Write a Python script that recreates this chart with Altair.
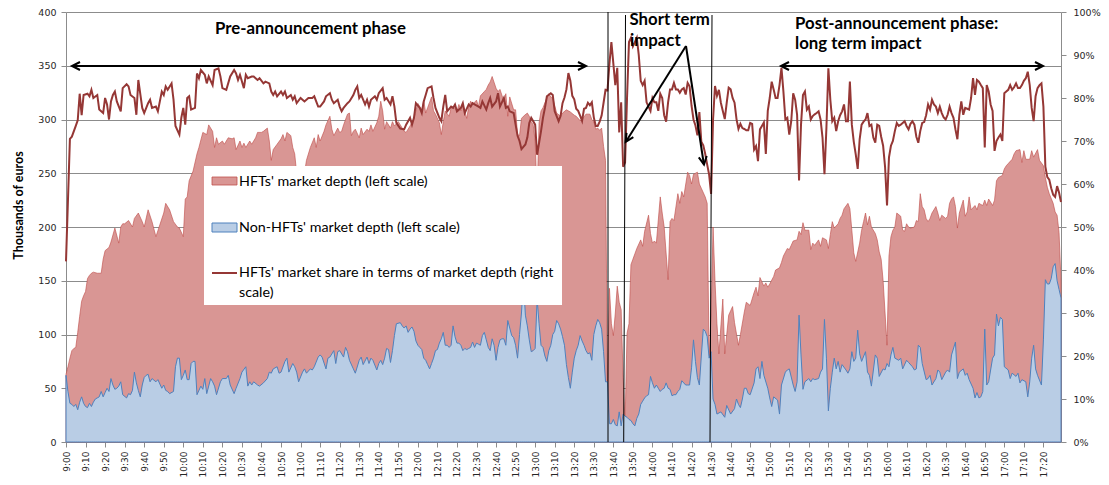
import altair as alt
import pandas as pd

# ---------------- data (minutes after 9:00) ----------------
# HFTs' market depth (left scale, thousands of euros) - top of the red area
hft_points = [(0,63),(1,70),(2,78),(3,85),(4,87),(5,88),(6,102),(7,117),(8,131),(9,136),(10,140),(11,152),(12,155),(13,157),(14,158),(16,157),(18,157),(19,170),(20,178),(22,181),(23,186),(25,199),(27,185),(28,200),(29,203),(30,203),(32,206),(34,200),(35,208),(37,213),(39,205),(40,200),(42,216),(44,205),(46,191),(48,202),(50,213),(51,222),(53,216),(55,205),(57,200),(58,199),(60,191),(61,226),(62,228),(63,243),(65,252),(67,268),(68,274),(70,288),(72,286),(73,295),(75,289),(76,274),(77,283),(78,277),(80,280),(81,277),(83,283),(85,282),(86,283),(87,272),(89,280),(90,274),(91,278),(92,274),(94,280),(95,277),(97,283),(98,288),(100,288),(101,289),(103,292),(104,280),(105,262),(106,272),(108,277),(110,282),(111,286),(112,280),(113,288),(115,285),(116,274),(117,268),(118,250),(119,190),(121,190),(122,250),(123,262),(125,274),(127,283),(128,274),(129,286),(130,280),(132,289),(133,295),(135,303),(136,291),(137,285),(139,292),(140,288),(141,289),(142,295),(144,305),(145,306),(146,285),(147,289),(148,291),(150,283),(151,292),(152,286),(154,291),(155,289),(156,295),(157,289),(159,297),(160,303),(161,317),(162,308),(163,291),(164,298),(166,292),(167,298),(168,294),(170,298),(172,292),(173,289),(174,288),(176,294),(178,301),(179,308),(180,315),(182,309),(183,318),(184,306),(185,311),(187,321),(188,308),(189,305),(191,297),(192,286),(193,298),(194,308),(196,303),(197,311),(198,312),(200,308),(201,314),(202,308),(203,314),(205,301),(206,312),(207,317),(208,314),(210,318),(211,312),(212,322),(214,326),(215,328),(216,332),(217,335),(218,340),(220,329),(221,326),(222,328),(224,317),(225,324),(226,303),(227,321),(229,309),(230,309),(231,286),(232,285),(233,301),(234,303),(236,306),(237,303),(238,298),(239,295),(240,280),(241,230),(242,297),(243,308),(244,311),(246,320),(247,324),(248,321),(249,320),(251,306),(253,303),(254,306),(256,309),(258,307),(260,304),(261,303),(263,299),(264,300),(266,305),(268,305),(269,300),(270,298),(271,291),(272,292),(273,290),(274,292),(275,275),(276,262),(277,56),(278,143),(279,110),(280,99),(281,120),(282,145),(283,130),(284,123),(285,60),(286,18),(287,101),(288,110),(289,165),(290,170),(291,175),(292,180),(294,188),(295,182),(296,196),(298,211),(299,194),(300,185),(301,187),(302,185),(304,228),(305,213),(306,200),(308,151),(309,205),(310,208),(311,206),(313,231),(314,222),(315,233),(316,228),(318,251),(319,248),(320,240),(321,249),(323,251),(324,240),(325,236),(327,228),(328,222),(329,78),(330,120),(331,200),(332,150),(333,110),(334,82),(336,133),(337,82),(339,118),(341,126),(342,111),(344,90),(345,100),(347,121),(348,130),(350,127),(352,139),(353,144),(354,136),(355,153),(357,145),(358,148),(359,144),(360,147),(362,154),(363,160),(365,162),(366,167),(367,173),(369,180),(370,179),(371,183),(372,187),(374,188),(375,196),(376,193),(377,204),(378,197),(380,197),(381,179),(382,185),(383,183),(385,188),(386,182),(387,190),(389,188),(390,180),(391,193),(392,205),(393,199),(395,203),(396,208),(397,211),(398,217),(400,222),(401,217),(402,197),(403,176),(404,168),(406,185),(407,197),(408,205),(409,213),(410,202),(411,210),(412,200),(414,194),(415,188),(416,177),(417,170),(418,150),(419,120),(420,90),(421,173),(422,191),(423,197),(424,200),(425,213),(427,210),(428,197),(429,196),(430,203),(431,200),(432,199),(434,200),(435,206),(436,205),(437,231),(438,219),(439,216),(440,208),(441,205),(442,208),(443,213),(445,219),(446,213),(447,206),(448,211),(450,208),(451,210),(452,222),(453,226),(454,228),(455,219),(456,199),(457,213),(459,225),(460,210),(461,214),(462,228),(463,216),(465,220),(466,216),(467,222),(468,221),(469,220),(470,225),(471,220),(472,226),(474,220),(475,225),(476,243),(477,246),(479,248),(480,254),(481,257),(482,259),(484,263),(485,268),(486,271),(488,272),(489,260),(490,271),(491,263),(493,263),(494,271),(495,265),(497,272),(498,262),(500,257),(501,246),(502,237),(503,231),(505,222),(506,214),(507,211),(508,195),(509,150)]

# Non-HFTs' market depth (left scale, thousands of euros)
non_hft_points = [(0,62),(1,47),(2,36),(3,35),(4,33),(5,35),(6,30),(7,37),(8,42),(9,36),(10,33),(11,32),(12,36),(13,33),(14,37),(15,40),(16,41),(17,42),(18,47),(19,42),(20,46),(21,50),(22,47),(23,59),(24,53),(25,49),(26,50),(27,52),(28,56),(29,44),(31,41),(32,45),(33,44),(34,48),(35,65),(36,55),(37,48),(38,42),(39,53),(40,60),(41,62),(42,63),(43,56),(44,59),(46,56),(47,58),(49,50),(50,53),(51,48),(52,47),(53,45),(55,47),(56,70),(57,78),(58,78),(59,58),(60,62),(61,67),(62,58),(63,58),(64,73),(65,75),(66,75),(67,44),(69,52),(70,49),(71,59),(72,45),(74,59),(75,56),(76,52),(77,44),(79,56),(80,59),(82,59),(83,62),(84,53),(86,45),(87,50),(89,59),(90,65),(92,70),(93,52),(94,56),(95,53),(96,56),(98,53),(99,52),(101,55),(103,59),(104,65),(105,64),(106,68),(108,70),(109,64),(110,65),(112,75),(113,78),(114,65),(116,73),(117,70),(118,65),(119,56),(121,65),(122,68),(123,64),(125,68),(126,67),(127,70),(129,79),(130,81),(131,79),(133,68),(134,78),(135,79),(137,85),(138,73),(139,84),(140,85),(142,79),(143,88),(144,84),(145,76),(147,68),(148,64),(150,76),(151,79),(152,72),(154,79),(155,73),(156,78),(157,76),(159,67),(160,73),(161,76),(162,72),(163,78),(164,87),(165,86),(166,74),(167,85),(168,99),(169,110),(171,111),(172,108),(173,106),(174,108),(175,102),(176,105),(177,107),(178,103),(179,94),(180,90),(181,88),(182,86),(183,78),(184,76),(185,72),(186,68),(187,73),(188,78),(189,85),(190,86),(191,92),(192,96),(193,102),(194,90),(195,90),(196,88),(197,90),(198,108),(199,98),(200,92),(201,92),(202,90),(203,85),(204,87),(205,86),(206,87),(207,88),(208,93),(209,88),(210,92),(211,91),(212,90),(213,99),(214,102),(215,95),(216,88),(217,85),(218,96),(219,90),(220,76),(221,88),(222,95),(223,96),(224,96),(225,90),(226,113),(227,106),(228,99),(229,97),(230,90),(231,78),(232,100),(233,120),(234,150),(235,118),(236,108),(237,95),(238,84),(239,85),(240,87),(241,133),(242,110),(243,90),(244,88),(245,80),(246,75),(247,85),(248,90),(249,100),(250,103),(251,113),(252,110),(253,105),(254,98),(255,90),(256,72),(257,60),(258,50),(259,65),(260,78),(261,85),(262,90),(263,99),(264,94),(265,90),(266,85),(267,82),(268,83),(269,76),(270,100),(271,108),(272,114),(273,111),(274,105),(275,84),(276,56),(277,56),(278,17),(279,17),(280,21),(281,16),(282,15),(283,28),(284,15),(285,26),(286,24),(287,23),(288,21),(289,20),(290,17),(291,15),(292,22),(293,26),(294,35),(295,38),(296,41),(297,43),(298,44),(299,61),(300,55),(301,50),(302,53),(303,50),(304,47),(305,49),(306,50),(307,55),(308,50),(309,49),(310,43),(311,44),(312,44),(313,47),(314,49),(315,57),(316,55),(317,53),(318,53),(319,53),(320,69),(321,95),(322,75),(323,60),(324,53),(325,80),(326,105),(327,103),(328,98),(329,78),(330,84),(331,40),(332,35),(333,26),(335,28),(337,23),(338,34),(340,26),(342,31),(343,40),(344,35),(345,32),(346,40),(347,50),(348,50),(349,45),(350,44),(352,55),(353,68),(354,70),(355,59),(356,75),(357,62),(359,50),(360,41),(361,33),(362,42),(364,39),(365,26),(366,53),(368,65),(369,67),(370,68),(372,53),(373,47),(374,56),(375,118),(376,81),(377,49),(378,56),(380,59),(381,56),(382,59),(383,58),(385,59),(386,65),(387,68),(388,114),(389,78),(390,29),(391,50),(392,65),(393,78),(394,68),(395,75),(396,65),(397,72),(399,67),(400,64),(401,68),(402,84),(403,75),(404,78),(405,104),(406,82),(407,75),(409,84),(410,65),(411,62),(412,52),(414,81),(415,78),(416,61),(418,68),(419,67),(420,73),(421,70),(422,81),(423,88),(424,78),(426,76),(427,78),(428,68),(430,76),(431,74),(433,70),(434,67),(435,68),(436,90),(437,88),(438,73),(440,58),(441,59),(442,62),(443,53),(445,59),(446,67),(447,65),(448,58),(450,65),(451,67),(452,65),(453,81),(455,93),(456,59),(457,65),(459,68),(460,62),(461,64),(462,58),(464,50),(465,41),(466,46),(467,41),(468,42),(469,47),(470,105),(471,53),(472,56),(474,78),(475,81),(476,119),(477,108),(478,116),(479,114),(480,70),(482,67),(483,59),(484,64),(486,61),(487,64),(488,55),(489,58),(491,56),(492,42),(493,56),(494,78),(495,90),(496,68),(497,62),(499,53),(500,95),(501,151),(502,147),(503,147),(504,152),(505,163),(506,166),(507,150),(508,142),(509,134)]

# HFTs' market share in terms of market depth (right scale, %)
share_points = [(0,42),(2,70.5),(3,71),(5,73.5),(6,74.8),(7,81),(8,76),(9,80.7),(11,81),(12,80.4),(13,81.9),(14,80),(16,80.7),(17,77.3),(19,76.5),(20,80),(21,78.5),(22,75),(23,79.2),(24,80.7),(25,81.5),(26,79.2),(28,76.9),(29,82.3),(31,83.2),(32,82.7),(33,80.7),(35,80),(36,76.1),(37,84.2),(39,77.7),(40,76.5),(42,78.8),(43,79.6),(44,77.7),(46,78),(47,76.9),(49,81.5),(50,80.7),(51,82.7),(52,81.9),(54,83.4),(55,79.6),(56,73.5),(58,71.5),(59,75.4),(60,77.7),(61,73.8),(62,80),(63,80.4),(64,77.3),(66,77.7),(67,85.7),(68,84.6),(69,86.5),(71,85.4),(72,83.4),(73,85),(75,83),(76,86.5),(78,86.9),(79,85),(80,82.3),(82,81.9),(84,85),(86,86.5),(87,85.7),(88,84.2),(89,85.4),(91,82.3),(92,85.4),(93,84.6),(95,85),(96,85),(98,84.2),(99,84.6),(101,83.4),(102,83.8),(104,83.4),(105,81.5),(106,80.7),(107,81.5),(108,80.4),(110,81.5),(111,80.7),(112,81.5),(113,80),(115,80.7),(116,79.6),(117,80.4),(118,78.8),(120,80),(121,79.6),(122,79.2),(124,80),(126,80),(127,80.4),(129,78),(130,78),(132,79.2),(133,80.4),(135,81.1),(136,79.6),(137,78.8),(139,79.6),(140,78),(141,76.9),(142,77.7),(144,78.8),(145,79.2),(147,80.7),(148,81.9),(149,82.7),(150,80),(151,80.7),(153,78.5),(154,79.6),(155,78),(156,79.6),(158,80.4),(159,79.6),(160,81.1),(162,82.3),(163,79.6),(164,80),(166,78.5),(167,80.4),(168,78),(169,74.2),(171,72.9),(173,72.7),(174,73.8),(176,75.4),(177,73.8),(178,75.4),(179,78.8),(181,77.7),(182,76.5),(183,79.2),(184,80.7),(185,82.3),(187,82.7),(188,80),(189,77.7),(191,75.4),(192,74.6),(193,78),(194,80.7),(195,76.9),(197,78),(198,77.7),(199,78.5),(200,76.9),(202,77.7),(203,78.8),(204,76.5),(206,78.5),(207,78),(208,78.8),(209,78.5),(211,78),(212,77.7),(213,79.2),(215,77.3),(216,78.8),(217,80),(218,78),(220,79.2),(221,81.1),(222,78),(224,80),(225,77.7),(226,78),(227,76.9),(229,76.5),(230,73.8),(231,71.2),(232,70),(233,68.1),(235,69.2),(236,70.8),(237,74.2),(238,75.4),(240,73.8),(241,66.8),(243,72.3),(244,75.4),(245,77.7),(246,80.4),(248,81.1),(249,80.7),(250,76.9),(252,74.6),(253,75.8),(254,78.8),(255,80.1),(256,82),(257,85.8),(258,84),(259,80.5),(260,79.7),(261,77.5),(262,77),(263,75.9),(264,74.7),(265,77.5),(266,77.7),(267,78.9),(268,78.3),(269,79),(270,75.5),(271,73.5),(272,73.5),(273,74.5),(274,75.9),(275,78.9),(276,81.9),(277,81.8),(278,88),(279,93),(280,88),(281,83),(282,87),(283,72),(284,79),(285,64),(286,65),(287,80),(288,93),(289,94),(290,92),(291,93),(292,94),(293,90),(294,84),(295,83),(296,84),(297,79),(298,78),(299,77),(300,80),(301,79),(302,79),(303,77),(304,81),(305,80),(306,76),(307,74.5),(308,79),(309,82),(310,82),(311,83.5),(312,82),(313,82),(314,81.2),(315,82),(316,82.3),(317,80.8),(318,83.5),(319,82.7),(320,78.2),(321,75),(322,73.6),(323,71.3),(324,76.7),(325,69.8),(326,69),(327,67),(328,64.5),(329,62.2),(330,57.7),(331,75),(332,82.8),(333,80.5),(334,81.9),(335,78.9),(336,77),(337,75.1),(338,78.9),(339,82.4),(340,82),(341,80),(342,78.9),(343,75.1),(344,72.8),(345,74),(346,73),(347,72.8),(348,72.5),(349,72.5),(350,74.2),(351,74),(352,68),(353,68.8),(354,65.3),(355,72.7),(356,73.5),(357,74.3),(358,67),(359,77),(360,80),(361,83.8),(362,82),(363,80),(364,80),(365,83),(366,87),(367,81.5),(368,75),(369,75.4),(370,71.5),(371,74.6),(372,81.1),(373,79.6),(374,76.1),(375,60.8),(376,73.8),(377,80.7),(378,81.5),(379,77.3),(380,78),(381,75),(382,75.8),(383,76.2),(384,76.5),(385,76.9),(386,75),(387,70.8),(388,62.3),(389,73.1),(390,86.9),(391,79.6),(392,74.6),(393,75.4),(394,72.3),(395,74.6),(396,76),(397,76.9),(398,78.5),(399,74.6),(400,74.6),(401,83.8),(402,73.8),(403,69.8),(404,66.9),(405,63.5),(406,70.4),(407,73.8),(408,74.5),(409,75),(410,76.5),(411,73.5),(412,73.8),(413,70.8),(414,69.6),(415,73.8),(416,73.5),(417,71),(418,68.9),(419,64),(420,55),(421,66.2),(422,68.9),(423,70),(424,72.3),(425,74.2),(426,73.5),(427,73.8),(428,74.2),(429,74.6),(430,73.5),(431,72.7),(432,74),(433,74.6),(434,73.8),(435,71),(436,69.6),(437,72.3),(438,74.2),(439,74.4),(440,76),(441,78.5),(442,77.3),(443,79.6),(444,78.5),(445,78),(446,76.5),(447,78),(448,76.5),(449,75.5),(450,75),(451,76.1),(452,78),(453,76.5),(454,75.4),(455,72.7),(456,70.4),(457,76.1),(458,79.2),(459,76.1),(460,77.7),(461,77.5),(462,77.3),(463,80),(464,84.6),(465,80.7),(466,84.2),(467,83.8),(468,83),(469,82.3),(470,68.5),(471,83),(472,81.5),(473,78.5),(474,77),(475,67.7),(476,70),(477,70.8),(478,71.5),(479,70),(480,81.1),(481,81.5),(482,81.9),(483,83),(484,81.9),(485,82.5),(486,83.4),(487,82.3),(488,82.3),(489,83),(490,84),(491,84.6),(492,86.1),(493,83),(494,77.7),(495,74.6),(496,80.4),(497,82.3),(498,83),(499,83.4),(500,78),(501,64),(502,61.6),(503,61),(504,59),(505,57.5),(506,57),(507,59.5),(508,58),(509,55.8)]

tick_minutes = list(range(0, 501, 10))        # 9:00 ... 17:20
left_ticks = list(range(0, 401, 50))
right_ticks = list(range(0, 101, 10))

legend_labels = ["HFTs' market depth (left scale)",
                 "Non-HFTs' market depth (left scale)",
                 "HFTs' market share in terms of market depth  (right",
                 "scale)"]

# ---------------- styling ----------------
W, H = 995, 430
RED_FILL, RED_EDGE = "#D99694", "#C0504D"
BLUE_FILL, BLUE_EDGE = "#B9CDE5", "#4F81BD"
LINE_RED = "#953735"
GRID = "#8C8C8C"
LABEL_FONT = "DejaVu Sans"
TEXT_FONT = "Lato"
LEG_SIZE = 14.3
NOTE_SIZE = 16.8

hft_df = pd.DataFrame(hft_points, columns=["t", "v"])
non_df = pd.DataFrame(non_hft_points, columns=["t", "v"])
share_df = pd.DataFrame(share_points, columns=["t", "v"])
one = pd.DataFrame({"k": [0]})

x_scale = alt.Scale(domain=[0, 509], nice=False, zero=False)
yl_scale = alt.Scale(domain=[0, 400], nice=False)
yr_scale = alt.Scale(domain=[0, 100], nice=False)

x_axis = alt.Axis(values=tick_minutes, title=None, grid=False,
                  labelExpr="floor(9 + datum.value / 60) + ':' + (datum.value % 60 < 10 ? '0' : '') + (datum.value % 60)",
                  labelAngle=270, labelFont=LABEL_FONT, labelFontSize=9, labelColor="#262626",
                  labelPadding=4, tickSize=5, tickColor=GRID, domainColor=GRID, labelOverlap=False,
                  labelBound=False, labelFlush=False)

yl_axis = alt.Axis(values=left_ticks, grid=True, gridColor=GRID, gridWidth=1, orient="left",
                   domainColor=GRID, tickColor=GRID, tickSize=5, labelPadding=5,
                   labelFont=LABEL_FONT, labelFontSize=9.5, labelColor="#262626",
                   title="Thousands of euros", titleFont=TEXT_FONT, titleFontSize=12.5,
                   titleFontWeight="bold", titleColor="black", titleAngle=270,
                   titleX=-48, titleY=193, titleAlign="center", titleBaseline="middle")

yr_axis = alt.Axis(values=right_ticks, grid=False, orient="right",
                   labelExpr="datum.value + '%'", domainColor=GRID, tickColor=GRID,
                   tickSize=5, labelPadding=7, labelFont=LABEL_FONT, labelFontSize=9.5,
                   labelColor="#262626", title=None)

x_enc = alt.X("t:Q", scale=x_scale, axis=x_axis)
yl_enc = alt.Y("v:Q", scale=yl_scale, axis=yl_axis)

hft_area = alt.Chart(hft_df).mark_area(
    fill=RED_FILL, stroke=RED_EDGE, strokeWidth=0.8, strokeOpacity=0.8, interpolate="linear"
).encode(x=x_enc, y=yl_enc)

non_area = alt.Chart(non_df).mark_area(
    fill=BLUE_FILL, stroke=BLUE_EDGE, strokeWidth=1, interpolate="linear"
).encode(x=x_enc, y=yl_enc)

left = alt.layer(hft_area, non_area)

share_line = alt.Chart(share_df).mark_line(color=LINE_RED, strokeWidth=2).encode(
    x=x_enc,
    y=alt.Y("v:Q", scale=yr_scale, axis=yr_axis))

# ---------------- legend (white box over the plot) ----------------
def rect(x1, x2, y1, y2, **kw):
    return alt.Chart(one).mark_rect(**kw).encode(
        x=alt.value(x1), x2=alt.value(x2), y=alt.value(y1), y2=alt.value(y2))

def rule(x1, y1, x2, y2, **kw):
    return alt.Chart(one).mark_rule(**kw).encode(
        x=alt.value(x1), y=alt.value(y1), x2=alt.value(x2), y2=alt.value(y2))

def text(s, x, y, baseline="middle", size=LEG_SIZE, bold=False, align="left"):
    return alt.Chart(one).mark_text(
        text=s, align=align, baseline=baseline, font=TEXT_FONT, fontSize=size,
        fontWeight="bold" if bold else "normal", color="black"
    ).encode(x=alt.value(x), y=alt.value(y))

def head(x, y, angle):
    return alt.Chart(one).mark_point(
        shape="M-2,-1L0,0L-2,1", filled=False, stroke="black", strokeWidth=2,
        size=64, angle=angle, opacity=1
    ).encode(x=alt.value(x), y=alt.value(y))

legend_layers = [
    rect(138, 496, 154, 293, fill="white", stroke=None),
    rect(146, 171, 165, 173, fill=RED_FILL, stroke=RED_EDGE, strokeWidth=0.8),
    text(legend_labels[0], 173, 169.5),
    rect(146, 171, 211, 220, fill=BLUE_FILL, stroke=BLUE_EDGE, strokeWidth=1),
    text(legend_labels[1], 173, 215.5),
    rule(146, 261, 171, 261, color=LINE_RED, strokeWidth=2),
    text(legend_labels[2], 173, 261),
    text(legend_labels[3], 173, 280.5),
]

# ---------------- annotations ----------------
annot_layers = [
    # phase separators
    rule(542, 0, 542, 430, color="black", strokeWidth=1),
    rule(559.5, 3, 557.7, 430, color="black", strokeWidth=1),
    rule(646, 3, 644, 430, color="black", strokeWidth=1),
    # pre-announcement double arrow
    rule(7, 54, 519, 54, color="black", strokeWidth=2),
    head(6, 54, 180), head(520, 54, 0),
    # post-announcement double arrow
    rule(716, 54, 976, 54, color="black", strokeWidth=2),
    head(715, 54, 180), head(977, 54, 0),
    # short-term arrows
    rule(620, 34, 560, 129.5, color="black", strokeWidth=2),
    rule(620, 34, 637.8, 152, color="black", strokeWidth=2),
    head(559.7, 129.8, 122), head(638, 152.6, 81),
    # texts
    text("Pre-announcement phase", 149, 21.7, baseline="alphabetic", size=NOTE_SIZE, bold=True),
    text("Short term", 563.5, 12.8, baseline="alphabetic", size=NOTE_SIZE, bold=True),
    text("impact", 564, 33.5, baseline="alphabetic", size=NOTE_SIZE, bold=True),
    text("Post-announcement phase:", 729, 17.1, baseline="alphabetic", size=NOTE_SIZE, bold=True),
    text("long term impact", 729, 36.8, baseline="alphabetic", size=NOTE_SIZE, bold=True),
]

overlay = alt.layer(*legend_layers, *annot_layers)

chart = alt.layer(left, share_line, overlay).resolve_scale(y="independent").properties(
    width=W, height=H,
    padding={"left": 58, "top": 4, "right": 40, "bottom": 35},
    autosize=alt.AutoSizeParams(type="none"),
    background="white",
).configure_view(stroke=None)

chart.save("out.html", embed_options={"renderer": "svg", "actions": False})
